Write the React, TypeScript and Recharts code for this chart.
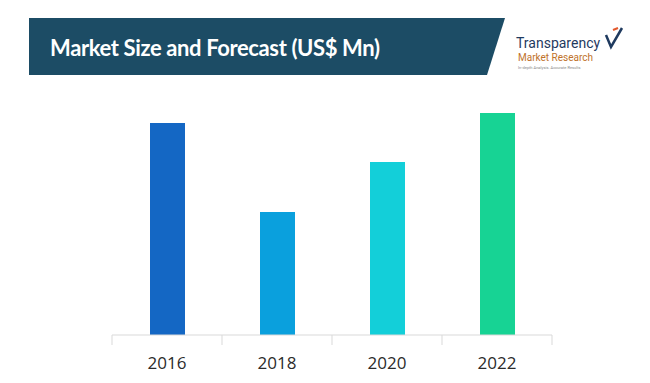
import React from "react";
import { BarChart, Bar, XAxis, YAxis, Cell } from "recharts";

const years = ["2016", "2018", "2020", "2022"];
const marketSize = [95.5, 55.4, 77.9, 100];
const barColors = ["#1467c4", "#0aa0dd", "#13cfd9", "#17d394"];

const data = years.map((year, i) => ({ year, value: marketSize[i] }));

// Excel-style axis: label in the middle, tick marks on category edges
const YearTick = (props: any) => {
  const { x, y, payload, index } = props;
  const half = 55;
  return (
    <g>
      <line x1={x - half} y1={y - 8} x2={x - half} y2={y + 2} stroke="#d9d9d9" />
      {index === years.length - 1 && (
        <line x1={x + half} y1={y - 8} x2={x + half} y2={y + 2} stroke="#d9d9d9" />
      )}
      <text x={x} y={y + 26} textAnchor="middle" fill="#2b2b2b" fontSize={17} fontFamily="Open Sans, sans-serif">
        {payload.value}
      </text>
    </g>
  );
};

export default function App() {
  return (
    <div style={{ position: "absolute", left: 0, top: 0, width: 650, height: 383, background: "#fff", overflow: "hidden" }}>
      <svg width={650} height={383} style={{ position: "absolute", left: 0, top: 0 }}>
        <polygon points="29,18 505,18 487,75 29,75" fill="#1c4c65" />
        <text x={50} y={56} fill="#fff" fontSize={22} fontWeight="bold" fontFamily="Lato, sans-serif" textLength={330}>
          Market Size and Forecast (US$ Mn)
        </text>
        <text x={516} y={48} fill="#1f3a5f" fontSize={14} fontFamily="Roboto, sans-serif">Transparency</text>
        <text x={518} y={61} fill="#c0722a" fontSize={10} fontFamily="Roboto, sans-serif">Market Research</text>
        <text x={518} y={69} fill="#8a8a8a" fontSize={4} fontFamily="Roboto, sans-serif">In-depth Analysis. Accurate Results</text>
        <path d="M606,35 L611,47 L622,28" fill="none" stroke="#1f3a5f" strokeWidth={2.5} />
        <path d="M613,30 L618,28" fill="none" stroke="#e2582c" strokeWidth={2} />
      </svg>
      <div style={{ position: "absolute", left: 0, top: 0 }}>
        <BarChart width={650} height={383} data={data} margin={{ top: 113, right: 98, bottom: 8, left: 112 }}>
          <XAxis
            dataKey="year"
            height={40}
            axisLine={{ stroke: "#d9d9d9" }}
            tickLine={false}
            tick={<YearTick />}
            interval={0}
          />
          <YAxis hide domain={[0, 100]} />
          <Bar dataKey="value" barSize={35} isAnimationActive={false}>
            {data.map((d, i) => (
              <Cell key={d.year} fill={barColors[i]} />
            ))}
          </Bar>
        </BarChart>
      </div>
    </div>
  );
}
